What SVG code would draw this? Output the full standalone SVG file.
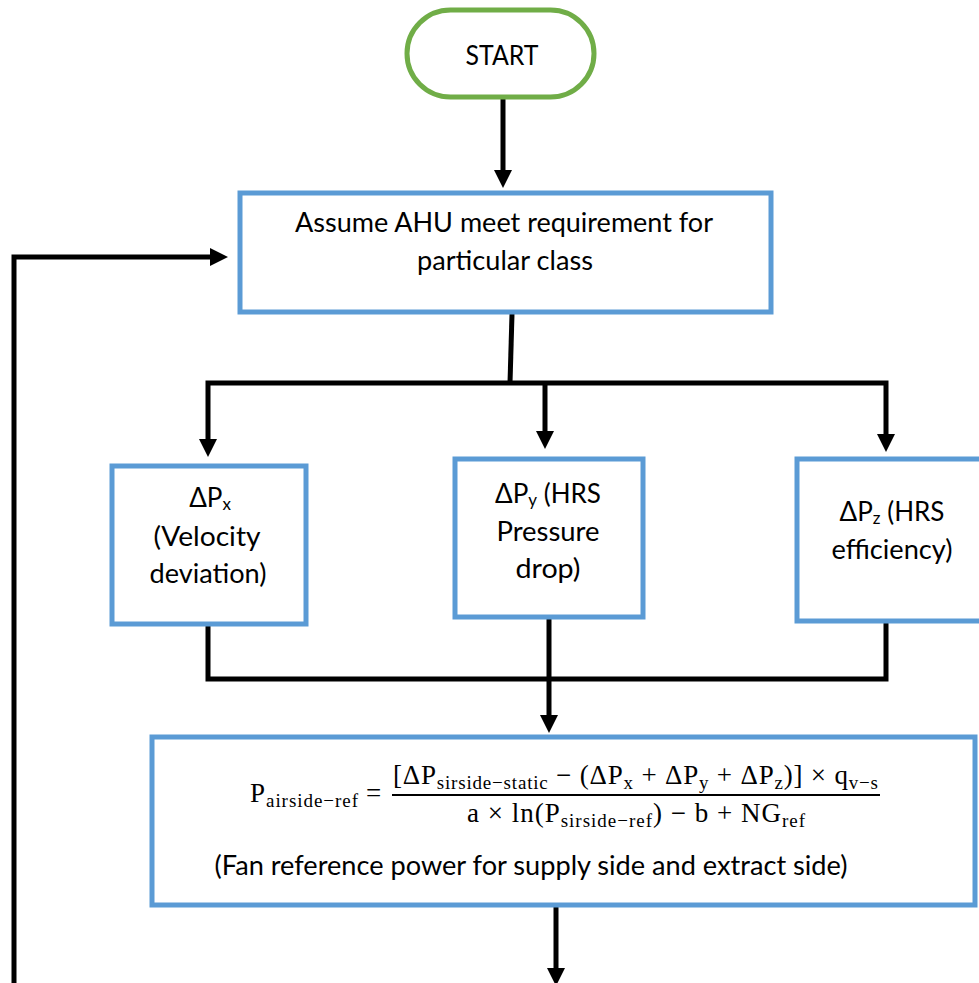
<svg xmlns="http://www.w3.org/2000/svg" width="979" height="983" viewBox="0 0 979 983">
<style>
.box{fill:#fff;stroke:#5B9BD5;stroke-width:5}
.term{fill:#fff;stroke:#70AD47;stroke-width:5}
.ln{fill:none;stroke:#000;stroke-width:5}
.t{font-family:Lato,"Open Sans","Liberation Sans",sans-serif;font-size:26px;fill:#000;text-anchor:middle}
.m{font-family:"Liberation Serif","DejaVu Serif",serif;font-size:27px;fill:#000}
.s{font-size:19px}
.bs{font-size:17px}
</style>
<defs>
<marker id="ah" viewBox="0 0 18 18" refX="2" refY="9" markerWidth="18" markerHeight="18" markerUnits="userSpaceOnUse" orient="auto">
<path d="M0,0 L18,9 L0,18 z" fill="#000"/>
</marker>
</defs>
<rect width="979" height="983" fill="#fff"/>
<g id="connectors">
<path class="ln" d="M503,98 L503,172" marker-end="url(#ah)"/>
<path class="ln" d="M14,983 L14,257 L212,257" marker-end="url(#ah)"/>
<path class="ln" d="M512,314 L510,383"/>
<path class="ln" d="M510,383 L208,383 L208,441" marker-end="url(#ah)"/>
<path class="ln" d="M510,383 L886,383 L886,436" marker-end="url(#ah)"/>
<path class="ln" d="M545,383 L545,433" marker-end="url(#ah)"/>
<path class="ln" d="M208,624 L208,679 L886,679 L886,621"/>
<path class="ln" d="M549,617 L549,717" marker-end="url(#ah)"/>
<path class="ln" d="M556,907 L556,970" marker-end="url(#ah)"/>
</g>
<g id="start">
<rect class="term" x="407" y="10" width="187" height="87" rx="43.5"/>
<text class="t" x="502" y="65" textLength="73" lengthAdjust="spacingAndGlyphs">START</text>
</g>
<g id="assume">
<rect class="box" x="240" y="193" width="531" height="119"/>
<text class="t" x="504" y="232" textLength="418" lengthAdjust="spacingAndGlyphs">Assume AHU meet requirement for</text>
<text class="t" x="505" y="270" textLength="176" lengthAdjust="spacingAndGlyphs">particular class</text>
</g>
<g id="dpx">
<rect class="box" x="112" y="466" width="194" height="158"/>
<text class="t" x="210" y="507">ΔP<tspan class="bs" dy="3">x</tspan></text>
<text class="t" x="207" y="546" textLength="107" lengthAdjust="spacingAndGlyphs">(Velocity</text>
<text class="t" x="208" y="583" textLength="117" lengthAdjust="spacingAndGlyphs">deviation)</text>
</g>
<g id="dpy">
<rect class="box" x="455" y="459" width="188" height="158"/>
<text class="t" x="548" y="503">ΔP<tspan class="bs" dy="3">y</tspan><tspan dy="-3"> (HRS</tspan></text>
<text class="t" x="548" y="541" textLength="103" lengthAdjust="spacingAndGlyphs">Pressure</text>
<text class="t" x="548" y="578" textLength="65" lengthAdjust="spacingAndGlyphs">drop)</text>
</g>
<g id="dpz">
<rect class="box" x="797" y="459" width="193" height="162"/>
<text class="t" x="892" y="521">ΔP<tspan class="bs" dy="3">z</tspan><tspan dy="-3"> (HRS</tspan></text>
<text class="t" x="892" y="559" textLength="121" lengthAdjust="spacingAndGlyphs">efficiency)</text>
</g>
<g id="formula">
<rect class="box" x="152" y="737" width="823" height="168"/>
<text class="m" x="250" y="802" textLength="108" lengthAdjust="spacing">P<tspan class="s" dy="5">airside−ref</tspan></text>
<text class="m" x="366" y="802">=</text>
<text class="m" x="393" y="784" textLength="485" lengthAdjust="spacing">[ΔP<tspan class="s" dy="5">sirside−static</tspan><tspan dy="-5"> − (ΔP</tspan><tspan class="s" dy="5">x</tspan><tspan dy="-5"> + ΔP</tspan><tspan class="s" dy="5">y</tspan><tspan dy="-5"> + ΔP</tspan><tspan class="s" dy="5">z</tspan><tspan dy="-5">)] × q</tspan><tspan class="s" dy="5">v−s</tspan></text>
<line x1="392" y1="795" x2="880" y2="795" stroke="#000" stroke-width="1.8"/>
<text class="m" x="467" y="822" textLength="338" lengthAdjust="spacing">a × ln(P<tspan class="s" dy="5">sirside−ref</tspan><tspan dy="-5">) − b + NG</tspan><tspan class="s" dy="5">ref</tspan></text>
<text class="t" x="531" y="875" textLength="633" lengthAdjust="spacingAndGlyphs">(Fan reference power for supply side and extract side)</text>
</g>
</svg>
